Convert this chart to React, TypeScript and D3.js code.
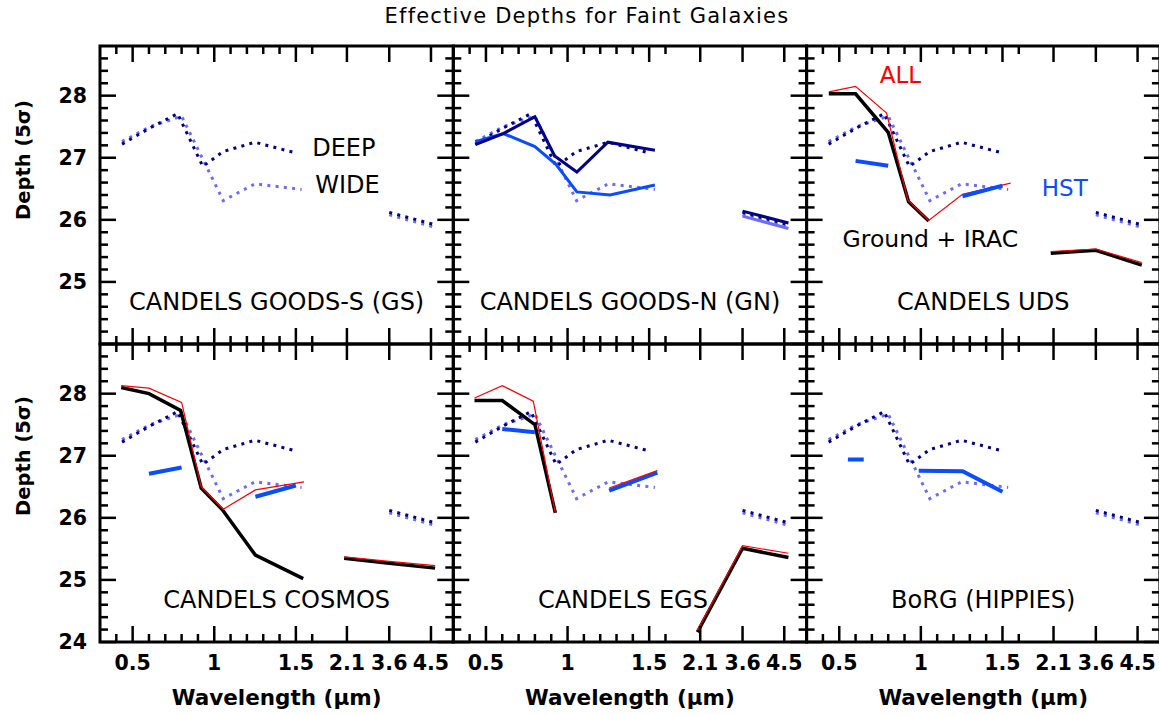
import { useMemo } from 'react'
import * as d3 from 'd3'

const WIDTH = 1159
const HEIGHT = 715
const LEFT = 100
const TOP = 46
const PANEL_W = 353.3
const PANEL_H = 298
const FONT = '"DejaVu Sans", sans-serif'

// x axis is linear in wavelength up to 1.6 um, then squeezed for K and IRAC
const X_BREAKS = [0.3, 1.6, 2.1, 3.6, 4.5]
const X_FRACS = [0, 0.6006, 0.6989, 0.8187, 0.9368]
const X_MAJOR = [0.5, 1, 1.5, 2.1, 3.6, 4.5]
const X_MAJOR_LABELS = ['0.5', '1', '1.5', '2.1', '3.6', '4.5']
const X_MINOR = [0.4, 0.6, 0.7, 0.8, 0.9, 1.1, 1.2, 1.3, 1.4, 1.6]
const Y_DOMAIN = [24, 28.8]
const Y_MAJOR = [24, 25, 26, 27, 28]
const Y_MINOR = [24.2, 24.4, 24.6, 24.8, 25.2, 25.4, 25.6, 25.8, 26.2, 26.4, 26.6, 26.8, 27.2, 27.4, 27.6, 27.8, 28.2, 28.4, 28.6]

// GOODS-S reference depths (drawn dotted in every panel)
const DEEP_WAVE = [0.435, 0.606, 0.775, 0.93, 1.055, 1.25, 1.51, NaN, 3.6, 4.59]
const DEEP_DEPTH = [27.22, 27.48, 27.71, 26.86, 27.1, 27.25, 27.07, NaN, 26.12, 25.92]
const WIDE_WAVE = [0.435, 0.606, 0.8, 1.055, 1.25, 1.535, NaN, 3.6, 4.59]
const WIDE_DEPTH = [27.26, 27.5, 27.67, 26.31, 26.58, 26.49, NaN, 26.08, 25.88]

// GOODS-N
const GN_DEEP_WAVE = [0.435, 0.606, 0.8, 0.921, 1.057, 1.247, 1.535, NaN, 3.6, 4.59]
const GN_DEEP_DEPTH = [27.21, 27.39, 27.66, 27.03, 26.77, 27.25, 27.12, NaN, 26.14, 25.95]
const GN_WIDE_WAVE = [0.435, 0.606, 0.8, 0.93, 1.057, 1.26, 1.535]
const GN_WIDE_DEPTH = [27.26, 27.39, 27.18, 26.89, 26.45, 26.4, 26.56]
const GN_WIDE_IRAC_WAVE = [3.6, 4.59]
const GN_WIDE_IRAC_DEPTH = [26.06, 25.86]

// UDS
const UDS_GROUND_WAVE = [0.436, 0.6, 0.8, 0.925, 1.048, NaN, 2.06, 3.6, 4.59]
const UDS_GROUND_DEPTH = [28.03, 28.03, 27.41, 26.29, 25.98, NaN, 25.46, 25.51, 25.27]
const UDS_ALL_WAVE = [0.436, 0.6, 0.79, 0.92, 1.048, 1.255, 1.55, NaN, 2.06, 3.6, 4.59]
const UDS_ALL_DEPTH = [28.06, 28.15, 27.72, 26.32, 25.99, 26.41, 26.59, NaN, 25.49, 25.53, 25.31]
const UDS_HST_WAVE = [0.6, 0.8, NaN, 1.255, 1.5]
const UDS_HST_DEPTH = [26.95, 26.87, NaN, 26.38, 26.55]

// COSMOS
const COS_GROUND_WAVE = [0.43, 0.6, 0.794, 0.92, 1.05, 1.252, 1.545, NaN, 2.06, 3.6, 4.59]
const COS_GROUND_DEPTH = [28.1, 28.0, 27.73, 26.48, 26.13, 25.4, 25.02, NaN, 25.35, 25.27, 25.19]
const COS_ALL_WAVE = [0.43, 0.6, 0.8, 0.92, 1.055, 1.252, 1.55, NaN, 2.06, 3.6, 4.59]
const COS_ALL_DEPTH = [28.13, 28.09, 27.86, 26.5, 26.14, 26.45, 26.58, NaN, 25.37, 25.3, 25.23]
const COS_HST_WAVE = [0.6, 0.8, NaN, 1.252, 1.5]
const COS_HST_DEPTH = [26.71, 26.81, NaN, 26.34, 26.52]

// EGS
const EGS_GROUND_WAVE = [0.43, 0.6, 0.8, 0.925, NaN, 2.06, 3.6, 4.59]
const EGS_GROUND_DEPTH = [27.89, 27.89, 27.5, 26.08, NaN, 24.16, 25.51, 25.36]
const EGS_ALL_WAVE = [0.43, 0.6, 0.79, 0.925, NaN, 1.255, 1.55, NaN, 2.06, 3.6, 4.59]
const EGS_ALL_DEPTH = [27.93, 28.13, 27.88, 26.08, NaN, 26.48, 26.76, NaN, 24.19, 25.55, 25.43]
const EGS_HST_WAVE = [0.6, 0.8, NaN, 1.255, 1.55]
const EGS_HST_DEPTH = [27.43, 27.38, NaN, 26.44, 26.73]

// BoRG
const BORG_HST_WAVE = [0.553, 0.65, NaN, 0.987, 1.256, 1.5]
const BORG_HST_DEPTH = [26.94, 26.94, NaN, 26.76, 26.75, 26.42]

const NAVY = '#00008b'
const LIGHT = '#6b6bff'
const BLUE = '#0a4dff'
const RED = '#ff0000'

type Style = { color: string; width: number; dash?: string }
const DOTTED = '3 5.3'
const STYLE_DEEP: Style = { color: NAVY, width: 3, dash: DOTTED }
const STYLE_WIDE: Style = { color: LIGHT, width: 3, dash: DOTTED }
const STYLE_BLACK: Style = { color: '#000', width: 3.5 }
const STYLE_RED: Style = { color: RED, width: 1.2 }
const STYLE_HST: Style = { color: BLUE, width: 4 }

type Series = { wave: number[]; depth: number[]; style: Style }
type Note = { text: string; wave: number; depth: number; color: string; size: number; anchor: string }

const REFS: Series[] = [
  { wave: WIDE_WAVE, depth: WIDE_DEPTH, style: STYLE_WIDE },
  { wave: DEEP_WAVE, depth: DEEP_DEPTH, style: STYLE_DEEP },
]

const PANELS: { name: string; col: number; row: number; nameDx: number; series: Series[]; notes: Note[] }[] = [
  {
    name: 'CANDELS GOODS-S (GS)', col: 0, row: 0, nameDx: 0, series: [],
    notes: [
      { text: 'DEEP', wave: 1.6, depth: 27.03, color: '#000', size: 24, anchor: 'start' },
      { text: 'WIDE', wave: 1.643, depth: 26.44, color: '#000', size: 24, anchor: 'start' },
    ],
  },
  {
    name: 'CANDELS GOODS-N (GN)', col: 1, row: 0, nameDx: 0,
    series: [
      { wave: GN_WIDE_IRAC_WAVE, depth: GN_WIDE_IRAC_DEPTH, style: { color: LIGHT, width: 3 } },
      { wave: GN_WIDE_WAVE, depth: GN_WIDE_DEPTH, style: { color: BLUE, width: 3 } },
      { wave: GN_DEEP_WAVE, depth: GN_DEEP_DEPTH, style: { color: NAVY, width: 3 } },
    ],
    notes: [],
  },
  {
    name: 'CANDELS UDS', col: 2, row: 0, nameDx: 0,
    series: [
      { wave: UDS_GROUND_WAVE, depth: UDS_GROUND_DEPTH, style: STYLE_BLACK },
      { wave: UDS_ALL_WAVE, depth: UDS_ALL_DEPTH, style: STYLE_RED },
      { wave: UDS_HST_WAVE, depth: UDS_HST_DEPTH, style: STYLE_HST },
    ],
    notes: [
      { text: 'ALL', wave: 0.875, depth: 28.21, color: RED, size: 23, anchor: 'middle' },
      { text: 'HST', wave: 2.5, depth: 26.38, color: BLUE, size: 23, anchor: 'middle' },
      { text: 'Ground + IRAC', wave: 1.058, depth: 25.56, color: '#000', size: 23.5, anchor: 'middle' },
    ],
  },
  {
    name: 'CANDELS COSMOS', col: 0, row: 1, nameDx: 0,
    series: [
      { wave: COS_GROUND_WAVE, depth: COS_GROUND_DEPTH, style: STYLE_BLACK },
      { wave: COS_ALL_WAVE, depth: COS_ALL_DEPTH, style: STYLE_RED },
      { wave: COS_HST_WAVE, depth: COS_HST_DEPTH, style: STYLE_HST },
    ],
    notes: [],
  },
  {
    name: 'CANDELS EGS', col: 1, row: 1, nameDx: -7,
    series: [
      { wave: EGS_GROUND_WAVE, depth: EGS_GROUND_DEPTH, style: STYLE_BLACK },
      { wave: EGS_HST_WAVE, depth: EGS_HST_DEPTH, style: STYLE_HST },
      { wave: EGS_ALL_WAVE, depth: EGS_ALL_DEPTH, style: STYLE_RED },
    ],
    notes: [],
  },
  {
    name: 'BoRG (HIPPIES)', col: 2, row: 1, nameDx: 0,
    series: [{ wave: BORG_HST_WAVE, depth: BORG_HST_DEPTH, style: STYLE_HST }],
    notes: [],
  },
]

function Panel({ panel }: { panel: (typeof PANELS)[number] }) {
  const x0 = LEFT + panel.col * PANEL_W
  const y0 = TOP + panel.row * PANEL_H

  const xScale = useMemo(
    () => d3.scaleLinear().domain(X_BREAKS).range(X_FRACS.map(f => x0 + f * PANEL_W)),
    [x0]
  )
  const yScale = useMemo(
    () => d3.scaleLinear().domain(Y_DOMAIN).range([y0 + PANEL_H, y0]),
    [y0]
  )

  const pathFor = (s: Series) => {
    const line = d3.line<number>()
      .defined(i => !isNaN(s.depth[i]) && !isNaN(s.wave[i]))
      .x(i => xScale(s.wave[i]))
      .y(i => yScale(s.depth[i]))
    return line(d3.range(s.wave.length)) || ''
  }

  const all = [...REFS, ...panel.series]
  const major = 16
  const minor = 8
  const bottom = y0 + PANEL_H
  const right = x0 + PANEL_W

  return (
    <g>
      {all.map((s, i) => (
        <path
          key={`s-${i}`}
          d={pathFor(s)}
          fill="none"
          stroke={s.style.color}
          strokeWidth={s.style.width}
          strokeDasharray={s.style.dash}
          strokeLinejoin="miter"
        />
      ))}

      {/* x ticks, top and bottom, pointing inward */}
      {X_MAJOR.map(v => (
        <g key={`xm-${v}`} stroke="#000" strokeWidth={2.5}>
          <line x1={xScale(v)} x2={xScale(v)} y1={bottom} y2={bottom - major} />
          <line x1={xScale(v)} x2={xScale(v)} y1={y0} y2={y0 + major} />
        </g>
      ))}
      {X_MINOR.map(v => (
        <g key={`xn-${v}`} stroke="#000" strokeWidth={2.5}>
          <line x1={xScale(v)} x2={xScale(v)} y1={bottom} y2={bottom - minor} />
          <line x1={xScale(v)} x2={xScale(v)} y1={y0} y2={y0 + minor} />
        </g>
      ))}

      {/* y ticks, left and right */}
      {Y_MAJOR.map(v => (
        <g key={`ym-${v}`} stroke="#000" strokeWidth={2.5}>
          <line x1={x0} x2={x0 + major} y1={yScale(v)} y2={yScale(v)} />
          <line x1={right} x2={right - major} y1={yScale(v)} y2={yScale(v)} />
        </g>
      ))}
      {Y_MINOR.map(v => (
        <g key={`yn-${v}`} stroke="#000" strokeWidth={2.5}>
          <line x1={x0} x2={x0 + minor} y1={yScale(v)} y2={yScale(v)} />
          <line x1={right} x2={right - minor} y1={yScale(v)} y2={yScale(v)} />
        </g>
      ))}

      <rect x={x0} y={y0} width={PANEL_W} height={PANEL_H} fill="none" stroke="#000" strokeWidth={3} />

      {/* tick labels */}
      {panel.row === 1 && X_MAJOR.map((v, i) => (
        <text key={`xl-${v}`} x={xScale(v)} y={bottom + 28} textAnchor="middle"
          fontSize={20.5} fontWeight="bold" fontFamily={FONT}>
          {X_MAJOR_LABELS[i]}
        </text>
      ))}
      {panel.row === 1 && (
        <text x={x0 + PANEL_W / 2} y={bottom + 63} textAnchor="middle"
          fontSize={21.5} fontWeight="bold" fontFamily={FONT}>
          Wavelength (μm)
        </text>
      )}
      {panel.col === 0 && Y_MAJOR.filter(v => panel.row === 1 || v > 24).map(v => (
        <text key={`yl-${v}`} x={x0 - 13} y={yScale(v)} dy="0.36em" textAnchor="end"
          fontSize={20.5} fontWeight="bold" fontFamily={FONT}>
          {v}
        </text>
      ))}

      <text x={x0 + PANEL_W / 2 + panel.nameDx} y={yScale(24.54)} textAnchor="middle"
        fontSize={24} fontFamily={FONT}>
        {panel.name}
      </text>
      {panel.notes.map(n => (
        <text key={n.text} x={xScale(n.wave)} y={yScale(n.depth)} textAnchor={n.anchor}
          fontSize={n.size} fill={n.color} fontFamily={FONT}>
          {n.text}
        </text>
      ))}
    </g>
  )
}

export default function App() {
  return (
    <svg
      width={WIDTH}
      height={HEIGHT}
      viewBox={`0 0 ${WIDTH} ${HEIGHT}`}
      style={{ position: 'absolute', left: 0, top: 0, background: '#fff' }}
    >
      <rect width={WIDTH} height={HEIGHT} fill="#fff" />
      <text x={587} y={23} textAnchor="middle" fontSize={21} letterSpacing={1.2} fontFamily={FONT}>
        Effective Depths for Faint Galaxies
      </text>
      {PANELS.map(p => <Panel key={p.name} panel={p} />)}
      {[0, 1].map(row => (
        <text key={`dl-${row}`} transform={`translate(30, ${160 + row * 296}) rotate(-90)`}
          textAnchor="middle" fontSize={19.5} fontWeight="bold" fontFamily={FONT}>
          Depth (5σ)
        </text>
      ))}
    </svg>
  )
}
